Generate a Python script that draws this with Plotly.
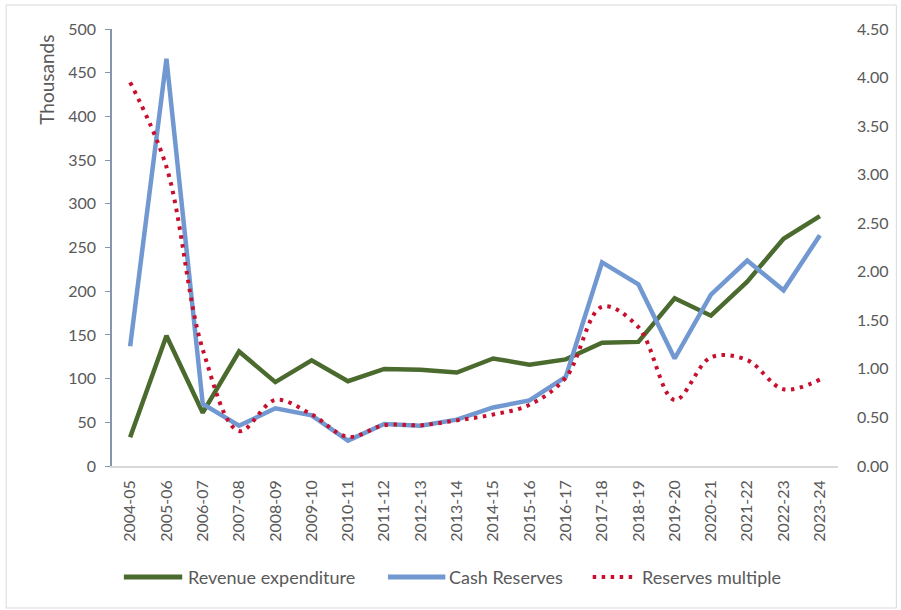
import plotly.graph_objects as go

# Financial years on the category axis
years = ["2004-05", "2005-06", "2006-07", "2007-08", "2008-09", "2009-10",
         "2010-11", "2011-12", "2012-13", "2013-14", "2014-15", "2015-16",
         "2016-17", "2017-18", "2018-19", "2019-20", "2020-21", "2021-22",
         "2022-23", "2023-24"]

# Values in thousands (left axis)
revenue_expenditure = [33, 149, 61, 131, 96, 121, 97, 111, 110, 107, 123, 116,
                       122, 141, 142, 192, 172, 211, 260, 286]
cash_reserves = [137, 466, 71, 46, 66, 58, 29, 48, 46, 53, 67, 75,
                 102, 233, 208, 123, 196, 235, 201, 264]

# Reserves as a multiple of expenditure (right axis)
reserves_multiple = [3.95, 3.08, 1.20, 0.36, 0.68, 0.53, 0.30, 0.42, 0.42, 0.47,
                     0.53, 0.63, 0.91, 1.64, 1.43, 0.68, 1.12, 1.09, 0.79, 0.89]

FONT = "Lato"
TXT = "#595959"
GREEN = "#4b6a2e"
BLUE = "#7198d0"
RED = "#c8102e"
DOTS = "3.5px,5.5px"

# Plot area in pixels, used to place the hand-built legend and frame
L, R, T, B = 112, 846, 29, 466
W, H = R - L, B - T


def px(x):
    return (x - L) / W


def py(y):
    return (B - y) / H


fig = go.Figure()
fig.add_trace(go.Scatter(
    x=years, y=revenue_expenditure, name="Revenue expenditure",
    mode="lines", line=dict(color=GREEN, width=4.5)))
fig.add_trace(go.Scatter(
    x=years, y=cash_reserves, name="Cash Reserves",
    mode="lines", line=dict(color=BLUE, width=4.5)))
fig.add_trace(go.Scatter(
    x=years, y=reserves_multiple, name="Reserves multiple", yaxis="y2",
    mode="lines", line=dict(color=RED, width=4, dash=DOTS, shape="spline")))

# Legend row below the axis labels
legend_items = [
    ("Revenue expenditure", GREEN, "solid", 124, 183, 187),
    ("Cash Reserves", BLUE, "solid", 391, 449, 451),
    ("Reserves multiple", RED, DOTS, 598, 642, 646),
]
LEG_Y = 577
shapes = [dict(
    type="rect", xref="paper", yref="paper",
    x0=px(5), x1=px(905), y0=py(608), y1=py(5),
    line=dict(color="#d9d9d9", width=1), layer="below")]
annotations = [dict(
    text="Thousands", xref="paper", yref="paper",
    x=px(46), y=py(80), xanchor="center", yanchor="middle", textangle=-90,
    showarrow=False, font=dict(family=FONT, size=19, color=TXT))]
for label, color, dash, x0, x1, tx in legend_items:
    shapes.append(dict(
        type="line", xref="paper", yref="paper",
        x0=px(x0), x1=px(x1), y0=py(LEG_Y), y1=py(LEG_Y),
        line=dict(color=color, width=5 if dash == "solid" else 4, dash=dash)))
    annotations.append(dict(
        text=label, xref="paper", yref="paper", x=px(tx), y=py(LEG_Y),
        xanchor="left", yanchor="middle", showarrow=False,
        font=dict(family=FONT, size=18, color=TXT)))

fig.update_layout(
    width=901, height=610,
    margin=dict(l=L, r=901 - R, t=T, b=610 - B),
    paper_bgcolor="white", plot_bgcolor="white",
    font=dict(family=FONT, size=16, color=TXT),
    showlegend=False,
    xaxis=dict(
        type="category", range=[-0.5, 19.5], tickangle=-90,
        showline=True, linecolor="#d9d9d9", linewidth=1.5,
        showgrid=False, ticks="", ticklabelstandoff=6,
        tickfont=dict(family=FONT, size=16, color=TXT)),
    yaxis=dict(
        range=[0, 500], dtick=50, showgrid=False, zeroline=False,
        showline=True, linecolor="#8695ab", linewidth=1.5,
        ticks="outside", ticklen=5, tickcolor="#8695ab", ticklabelstandoff=6,
        tickfont=dict(family=FONT, size=16, color=TXT)),
    yaxis2=dict(
        range=[0, 4.5], dtick=0.5, tickformat=".2f", overlaying="y", side="right",
        showgrid=False, zeroline=False, showline=False, ticks="",
        ticklabelstandoff=18,
        tickfont=dict(family=FONT, size=16, color=TXT)),
    annotations=annotations,
    shapes=shapes,
)

fig.write_html("out.html")
